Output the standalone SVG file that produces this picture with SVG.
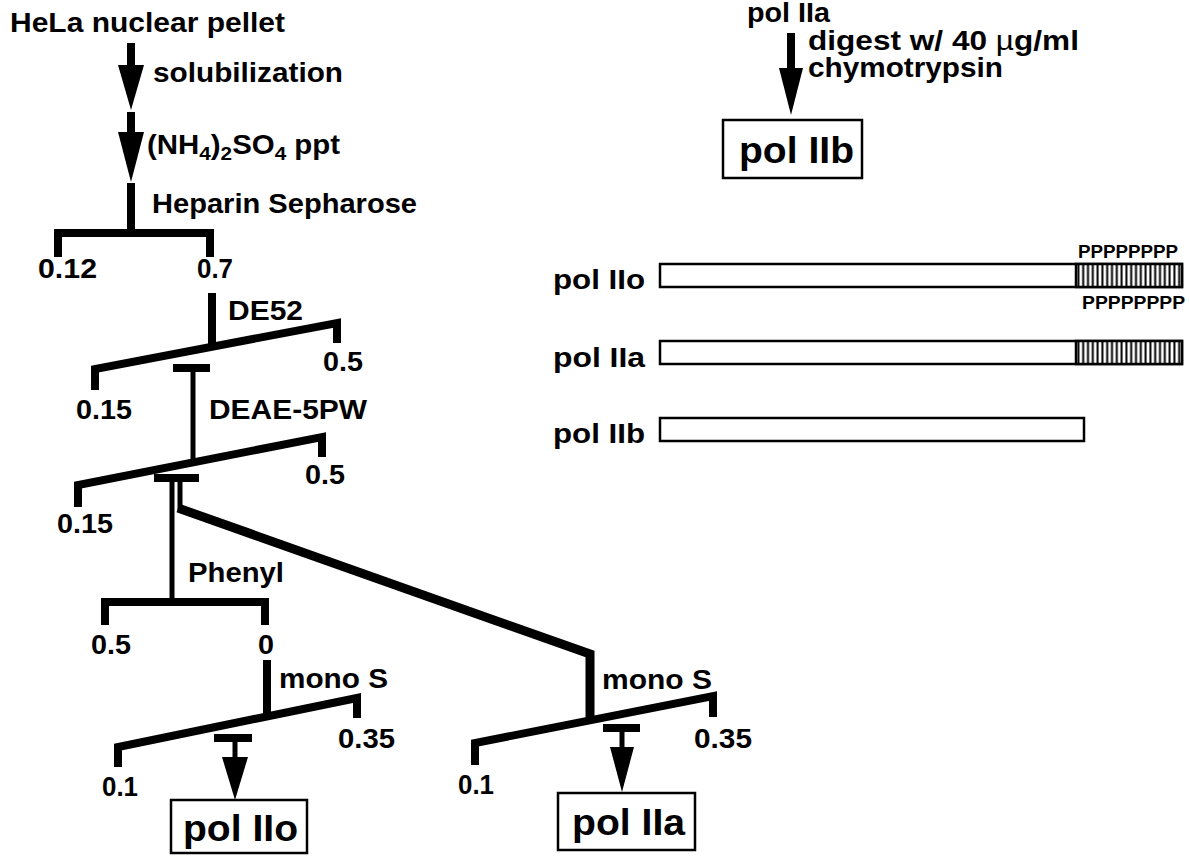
<svg xmlns="http://www.w3.org/2000/svg" width="1190" height="856" viewBox="0 0 1190 856">
<style>
.t{font-family:"Liberation Sans",Arial,sans-serif;font-weight:bold;fill:#000;font-size:27px}
.big{font-size:36px}
.sm{font-size:18px}
.ln{fill:none;stroke:#000;stroke-width:8;stroke-linejoin:miter;stroke-linecap:butt}
.stem{fill:none;stroke:#000;stroke-width:5}
.hd{fill:#000;stroke:none}
.box{fill:#fff;stroke:#000;stroke-width:2.5}
.bar{fill:#fff;stroke:#000;stroke-width:2.5}
</style>
<defs>
<pattern id="hatch" x="1076" y="0" width="4.8" height="10" patternUnits="userSpaceOnUse">
<rect width="4.8" height="10" fill="#fff"/>
<line x1="2.4" y1="0" x2="2.4" y2="10" stroke="#000" stroke-width="2"/>
</pattern>
</defs>
<rect width="1190" height="856" fill="#fff"/>

<g id="connectors">
<line x1="131" y1="43" x2="131" y2="66" class="ln"/>
<polygon class="hd" points="118,65 144,65 131,110"/>
<line x1="131" y1="112" x2="131" y2="133" class="ln"/>
<polygon class="hd" points="118,132 144,132 131,182"/>
<line x1="131" y1="183" x2="131" y2="233" class="ln"/>
<polyline class="ln" points="58,257 58,233 210,233 210,257"/>
<line x1="212" y1="293" x2="212" y2="347" class="ln"/>
<polyline class="ln" points="95,390 95,369 337,323 337,343"/>
<line x1="173" y1="368" x2="210" y2="368" class="ln"/>
<line x1="193" y1="368" x2="193" y2="463" class="stem"/>
<polyline class="ln" points="78,507 78,485 322,437 322,457"/>
<line x1="154" y1="478" x2="199" y2="478" class="ln"/>
<line x1="172" y1="478" x2="172" y2="602" class="stem"/>
<line x1="180" y1="478" x2="180" y2="510" class="stem" stroke-width="6"/>
<polyline class="ln" style="stroke-width:9" points="178,508 590,654 590,720"/>
<polyline class="ln" points="105,625 105,602 265,602 265,625"/>
<line x1="267" y1="660" x2="267" y2="717" class="ln"/>
<polyline class="ln" points="118,767 118,747 357,698 357,718"/>
<line x1="214" y1="738" x2="252" y2="738" class="ln"/>
<line x1="235" y1="738" x2="235" y2="758" class="stem"/>
<polygon class="hd" points="222,757 248,757 235,800"/>
<polyline class="ln" points="475,765 475,743 713,696 713,717"/>
<line x1="603" y1="728" x2="640" y2="728" class="ln"/>
<line x1="622" y1="728" x2="622" y2="748" class="stem"/>
<polygon class="hd" points="610,747 634,747 622,792"/>
<line x1="791" y1="33" x2="791" y2="69" class="ln"/>
<polygon class="hd" points="779,68 803,68 791,115"/>
</g>

<g id="hela"><text class="t" x="10" y="32" font-size="26" textLength="275" lengthAdjust="spacingAndGlyphs">HeLa nuclear pellet</text></g>
<g id="solubilization"><text class="t" x="153" y="82" textLength="190" lengthAdjust="spacingAndGlyphs">solubilization</text></g>
<g id="nh4"><text class="t" transform="translate(147,154) scale(1.09,1)">(NH<tspan font-size="19" dy="6">4</tspan><tspan dy="-6">)</tspan><tspan font-size="19" dy="6">2</tspan><tspan dy="-6">SO</tspan><tspan font-size="19" dy="6">4</tspan><tspan dy="-6"> ppt</tspan></text></g>
<g id="heparin">
<text class="t" x="152" y="213" textLength="265" lengthAdjust="spacingAndGlyphs">Heparin Sepharose</text>
<text class="t" x="38" y="278" textLength="59" lengthAdjust="spacingAndGlyphs">0.12</text>
<text class="t" x="197" y="278" textLength="36" lengthAdjust="spacingAndGlyphs">0.7</text>
</g>
<g id="de52">
<text class="t" x="228" y="320" textLength="75" lengthAdjust="spacingAndGlyphs">DE52</text>
<text class="t" x="323" y="371" textLength="40" lengthAdjust="spacingAndGlyphs">0.5</text>
<text class="t" x="76" y="419" textLength="56" lengthAdjust="spacingAndGlyphs">0.15</text>
</g>
<g id="deae">
<text class="t" x="209" y="419" textLength="158" lengthAdjust="spacingAndGlyphs">DEAE-5PW</text>
<text class="t" x="305" y="484" textLength="40" lengthAdjust="spacingAndGlyphs">0.5</text>
<text class="t" x="57" y="533" textLength="56" lengthAdjust="spacingAndGlyphs">0.15</text>
</g>
<g id="phenyl">
<text class="t" x="188" y="582" textLength="96" lengthAdjust="spacingAndGlyphs">Phenyl</text>
<text class="t" x="91" y="654" textLength="40" lengthAdjust="spacingAndGlyphs">0.5</text>
<text class="t" x="258" y="654" textLength="16" lengthAdjust="spacingAndGlyphs">0</text>
</g>
<g id="monoS1">
<text class="t" x="279" y="688" textLength="109" lengthAdjust="spacingAndGlyphs">mono S</text>
<text class="t" x="338" y="748" textLength="57" lengthAdjust="spacingAndGlyphs">0.35</text>
<text class="t" x="102" y="796" textLength="36" lengthAdjust="spacingAndGlyphs">0.1</text>
</g>
<g id="polIIo-box">
<rect class="box" x="171" y="800" width="136" height="53"/>
<text class="t big" x="183" y="841" textLength="115" lengthAdjust="spacingAndGlyphs">pol IIo</text>
</g>
<g id="monoS2">
<text class="t" x="602" y="689" textLength="110" lengthAdjust="spacingAndGlyphs">mono S</text>
<text class="t" x="694" y="748" textLength="58" lengthAdjust="spacingAndGlyphs">0.35</text>
<text class="t" x="458" y="794" textLength="36" lengthAdjust="spacingAndGlyphs">0.1</text>
</g>
<g id="polIIa-box">
<rect class="box" x="558" y="793" width="137" height="57"/>
<text class="t big" x="572" y="835" textLength="113" lengthAdjust="spacingAndGlyphs">pol IIa</text>
</g>
<g id="digest">
<text class="t" x="747" y="22" font-size="26" textLength="83" lengthAdjust="spacingAndGlyphs">pol IIa</text>
<text class="t" font-size="25" transform="translate(808,50) scale(1.17,1)">digest w/ 40 <tspan font-weight="normal">µ</tspan>g/ml</text>
<text class="t" x="808" y="77" font-size="25" textLength="195" lengthAdjust="spacingAndGlyphs">chymotrypsin</text>
</g>
<g id="polIIb-box">
<rect class="box" x="723" y="120" width="139" height="58"/>
<text class="t big" x="739" y="163" textLength="115" lengthAdjust="spacingAndGlyphs">pol IIb</text>
</g>
<g id="bar-IIo">
<text class="t" x="553" y="289" textLength="92" lengthAdjust="spacingAndGlyphs">pol IIo</text>
<rect class="bar" x="660" y="264" width="522" height="23"/>
<rect class="bar" x="1076" y="264" width="106" height="23" style="fill:url(#hatch)"/>
<text class="t sm" x="1078" y="258" textLength="100" lengthAdjust="spacingAndGlyphs">PPPPPPPP</text>
<text class="t sm" x="1082" y="309" textLength="103" lengthAdjust="spacingAndGlyphs">PPPPPPPP</text>
</g>
<g id="bar-IIa">
<text class="t" x="553" y="367" textLength="92" lengthAdjust="spacingAndGlyphs">pol IIa</text>
<rect class="bar" x="660" y="341" width="522" height="23"/>
<rect class="bar" x="1076" y="341" width="106" height="23" style="fill:url(#hatch)"/>
</g>
<g id="bar-IIb">
<text class="t" x="553" y="443" textLength="92" lengthAdjust="spacingAndGlyphs">pol IIb</text>
<rect class="bar" x="660" y="418" width="424" height="23"/>
</g>
</svg>
